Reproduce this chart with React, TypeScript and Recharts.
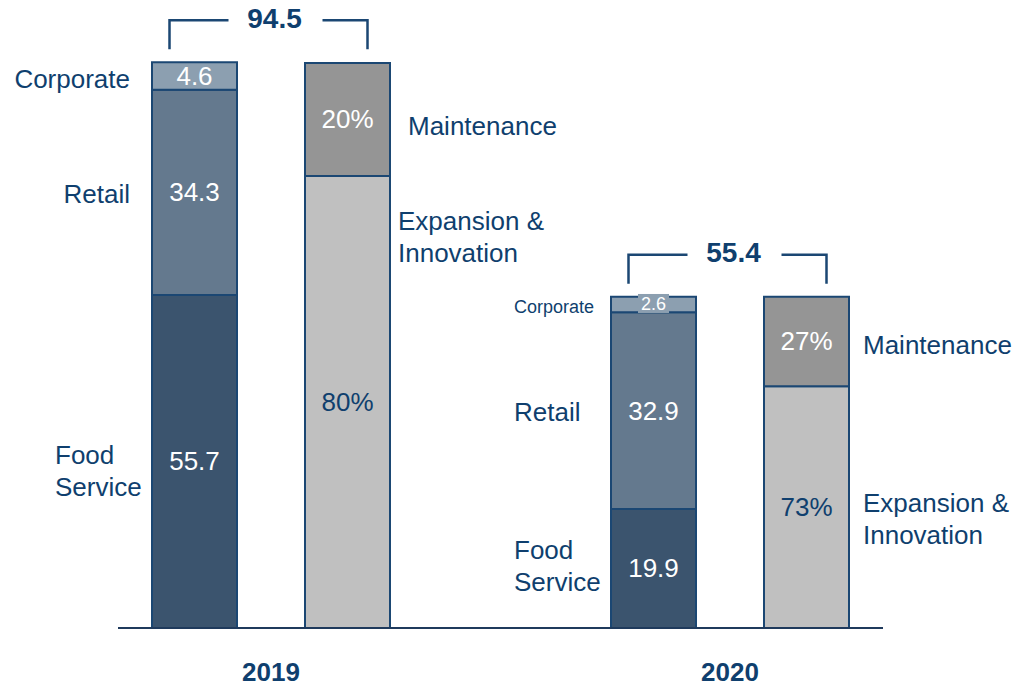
import React from 'react';
import { BarChart, Bar, XAxis, YAxis, LabelList } from 'recharts';

// values in $M
const years = ['2019', '2020'];
const foodService = [55.7, 19.9];
const retail = [34.3, 32.9];
const corporate = [4.6, 2.6];
const totals = [94.5, 55.4];
const maintenancePct = [20, 27];
const expansionPct = [80, 73];

const W = 1015;
const H = 686;
const margin = { top: 30, right: 132, bottom: 0, left: 118 };
const SLOTS = 5;
const step = (W - margin.left - margin.right) / SLOTS;

const FONT = '"Liberation Sans", Arial, Helvetica, sans-serif';
const NAVY = '#0f3f6e';
const EDGE = '#1b4773';
const COLORS = {
  food: '#3b546e',
  retail: '#64798e',
  corp: '#8c9fb0',
  maint: '#959595',
  exp: '#c0c0c0',
};

type Row = {
  slot: string;
  year: number;
  food: number;
  retail: number;
  corp: number;
  exp: number;
  maint: number;
};

const rows: Row[] = [];
years.forEach((_, i) => {
  rows.push({ slot: `${i}-seg`, year: i, food: foodService[i], retail: retail[i], corp: corporate[i], exp: 0, maint: 0 });
  rows.push({
    slot: `${i}-mix`,
    year: i,
    food: 0,
    retail: 0,
    corp: 0,
    exp: (totals[i] * expansionPct[i]) / 100,
    maint: (totals[i] * maintenancePct[i]) / 100,
  });
  if (i < years.length - 1) rows.push({ slot: 'gap', year: -1, food: 0, retail: 0, corp: 0, exp: 0, maint: 0 });
});

// where each series name sits next to its bar, per year
type NamePos = { anchor: 'start' | 'end'; dx: number; dy: number; size: number };
const nameLayout: Record<string, NamePos[]> = {
  food: [
    { anchor: 'start', dx: -97, dy: 10, size: 26 },
    { anchor: 'start', dx: -97, dy: -2, size: 26 },
  ],
  retail: [
    { anchor: 'end', dx: -22, dy: 2, size: 26 },
    { anchor: 'start', dx: -97, dy: 1, size: 26 },
  ],
  corp: [
    { anchor: 'end', dx: -22, dy: 3, size: 26 },
    { anchor: 'start', dx: -97, dy: 3, size: 18 },
  ],
  maint: [
    { anchor: 'start', dx: 18, dy: 7, size: 26 },
    { anchor: 'start', dx: 14, dy: 4, size: 26 },
  ],
  exp: [
    { anchor: 'start', dx: 8, dy: -165, size: 26 },
    { anchor: 'start', dx: 14, dy: 12, size: 26 },
  ],
};

const seriesNames: Record<string, string[]> = {
  food: ['Food', 'Service'],
  retail: ['Retail'],
  corp: ['Corporate'],
  maint: ['Maintenance'],
  exp: ['Expansion &', 'Innovation'],
};

const valueText = (key: keyof Row, year: number) => {
  if (key === 'food') return String(foodService[year]);
  if (key === 'retail') return String(retail[year]);
  if (key === 'corp') return String(corporate[year]);
  if (key === 'maint') return `${maintenancePct[year]}%`;
  return `${expansionPct[year]}%`;
};

// LabelList skips empty bars, so find the row from the bar's band
const rowAt = (cx: number) => rows[Math.round((cx - margin.left - step / 2) / step)];

const makeLabel = (key: keyof Row, valueColor: string, rightSide: boolean) => (props: any) => {
  const x = Number(props.x);
  const y = Number(props.y);
  const w = Number(props.width);
  const h = Number(props.height);
  const cx = x + w / 2;
  const row = rowAt(cx);
  if (!row || row.year < 0 || !(Number(row[key]) > 0) || !(h > 0)) return null;
  const mid = y + h / 2;
  const small = h < 20;
  const pos = nameLayout[key as string][row.year];
  const names = seriesNames[key as string];
  const nx = rightSide ? x + w + pos.dx : x + pos.dx;
  const ny = mid + pos.dy - ((names.length - 1) * 32) / 2;

  return (
    <g fontFamily={FONT}>
      {small && <rect x={cx - 15.5} y={mid - 10.5} width={31} height={19} fill={COLORS.corp} />}
      <text
        x={cx}
        y={mid}
        textAnchor="middle"
        dominantBaseline="central"
        fill={valueColor}
        fontSize={small ? 18 : 26}
      >
        {valueText(key, row.year)}
      </text>
      {names.map((n, i) => (
        <text
          key={n}
          x={nx}
          y={ny + i * 32}
          textAnchor={pos.anchor}
          dominantBaseline="central"
          fill={NAVY}
          fontSize={pos.size}
        >
          {n}
        </text>
      ))}
      {key === 'corp' && renderBracket(cx, y, row.year)}
    </g>
  );
};

// bracket over both bars of a year with the total
const renderBracket = (cx: number, top: number, year: number) => {
  const left = cx - 25;
  const right = cx + step + 20;
  const yTop = top - 42;
  const yBot = top - 13;
  const tx = (left + right) / 2 + 6;
  return (
    <g>
      <path
        d={`M${left},${yBot} V${yTop} H${tx - 46} M${tx + 48},${yTop} H${right} V${yBot}`}
        fill="none"
        stroke={EDGE}
        strokeWidth={2.5}
      />
      <text
        x={tx}
        y={yTop - 2}
        textAnchor="middle"
        dominantBaseline="central"
        fill={NAVY}
        fontSize={28}
        fontWeight="bold"
      >
        {totals[year]}
      </text>
    </g>
  );
};

const YearTick = (props: any) => {
  const slot: string = props.payload?.value ?? '';
  if (!slot.endsWith('-seg')) return null;
  const year = parseInt(slot, 10);
  return (
    <text
      x={Number(props.x) + step / 2}
      y={Number(props.y) + 44}
      textAnchor="middle"
      dominantBaseline="central"
      fill={NAVY}
      fontFamily={FONT}
      fontSize={26}
      fontWeight="bold"
    >
      {years[year]}
    </text>
  );
};

const App: React.FC = () => {
  return (
    <div style={{ width: W, height: H, background: '#fff' }}>
      <style>{'body{margin:0}'}</style>
      <BarChart width={W} height={H} data={rows} margin={margin} barSize={85}>
        <YAxis hide domain={[0, 100]} />
        <XAxis
          dataKey="slot"
          height={58}
          interval={0}
          tickLine={false}
          tickSize={0}
          tickMargin={0}
          axisLine={{ stroke: '#1f3a5c', strokeWidth: 2 }}
          tick={<YearTick />}
        />
        <Bar dataKey="food" stackId="s" fill={COLORS.food} stroke={EDGE} strokeWidth={2} isAnimationActive={false}>
          <LabelList dataKey="food" content={makeLabel('food', '#ffffff', false)} />
        </Bar>
        <Bar dataKey="retail" stackId="s" fill={COLORS.retail} stroke={EDGE} strokeWidth={2} isAnimationActive={false}>
          <LabelList dataKey="retail" content={makeLabel('retail', '#ffffff', false)} />
        </Bar>
        <Bar dataKey="corp" stackId="s" fill={COLORS.corp} stroke={EDGE} strokeWidth={2} isAnimationActive={false}>
          <LabelList dataKey="corp" content={makeLabel('corp', '#ffffff', false)} />
        </Bar>
        <Bar dataKey="exp" stackId="s" fill={COLORS.exp} stroke={EDGE} strokeWidth={2} isAnimationActive={false}>
          <LabelList dataKey="exp" content={makeLabel('exp', NAVY, true)} />
        </Bar>
        <Bar dataKey="maint" stackId="s" fill={COLORS.maint} stroke={EDGE} strokeWidth={2} isAnimationActive={false}>
          <LabelList dataKey="maint" content={makeLabel('maint', '#ffffff', true)} />
        </Bar>
      </BarChart>
    </div>
  );
};

export default App;
